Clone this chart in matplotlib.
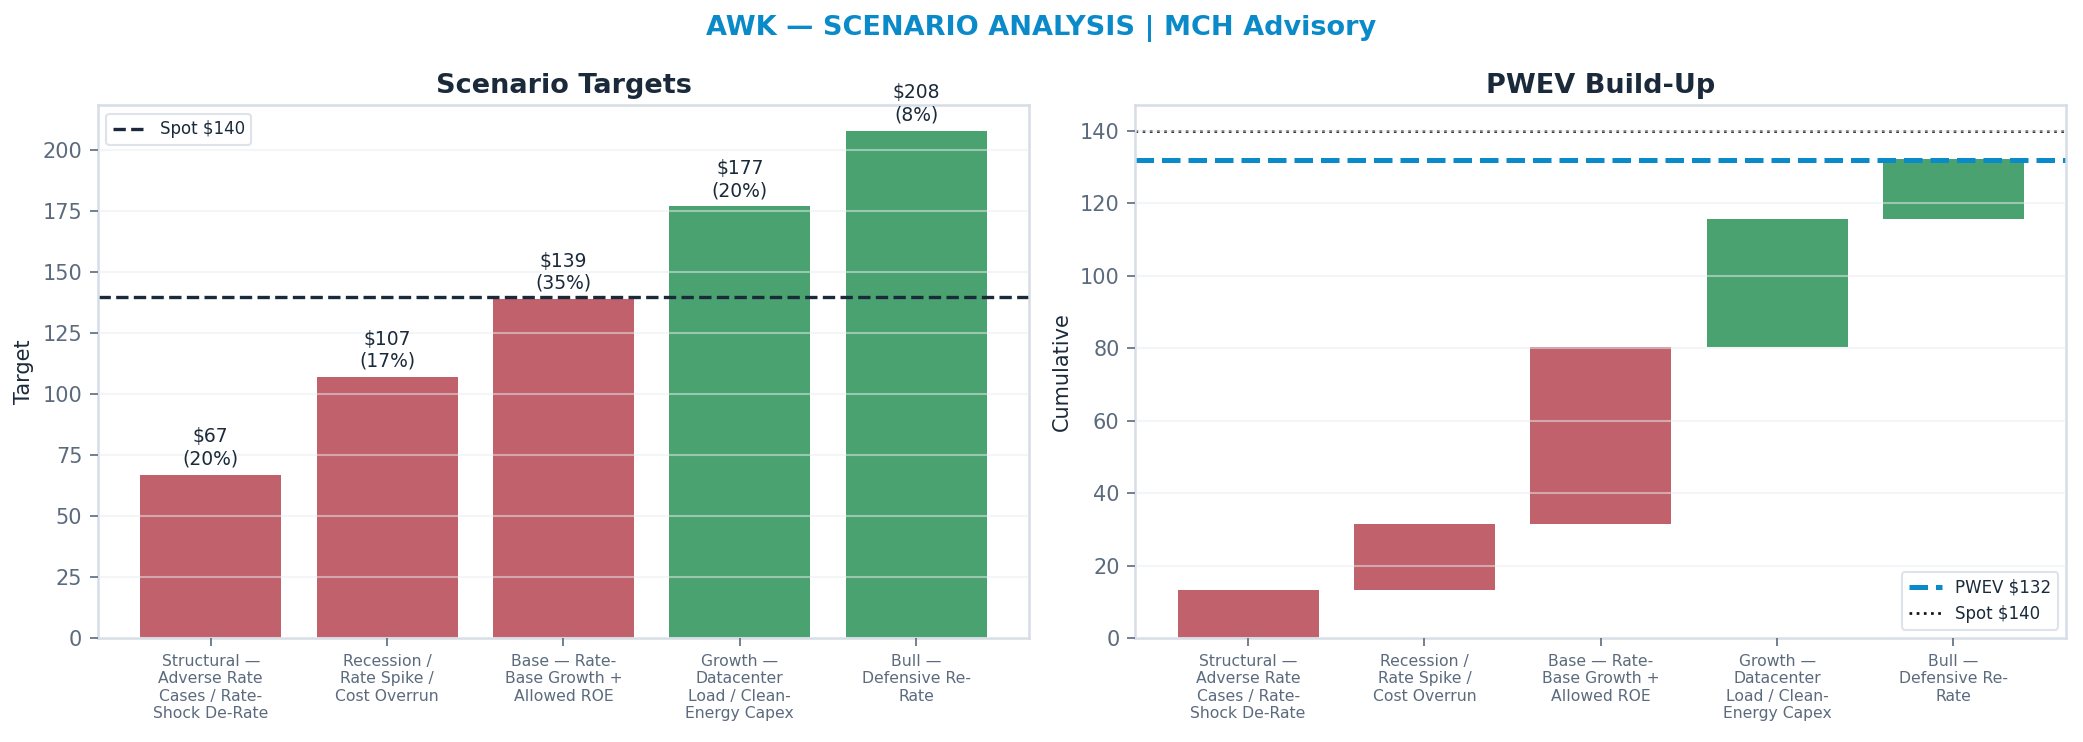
import matplotlib
matplotlib.use("Agg")
import matplotlib.pyplot as plt
import numpy as np

# ---- data ----
scenarios = [
    "Structural —\nAdverse Rate\nCases / Rate-\nShock De-Rate",
    "Recession /\nRate Spike /\nCost Overrun",
    "Base — Rate-\nBase Growth +\nAllowed ROE",
    "Growth —\nDatacenter\nLoad / Clean-\nEnergy Capex",
    "Bull —\nDefensive Re-\nRate",
]
targets = [67, 107, 139, 177, 208]
probs = [0.20, 0.17, 0.35, 0.20, 0.08]
spot = 140
pwev = 132

RED = "#c0616b"
GREEN = "#4aa270"
NAVY = "#1b2a3a"
BLUE = "#0a8ac8"
TICK = "#5b6b7d"
SPINE = "#d6dde6"
GRID = "#e9edf1"

plt.rcParams["font.family"] = ["DejaVu Sans"]

fig = plt.figure(figsize=(2083 / 150, 742 / 150), dpi=150)
ax1 = fig.add_axes([0.047, 0.140, 0.447, 0.718])
ax2 = fig.add_axes([0.545, 0.140, 0.447, 0.718])

fig.suptitle("AWK — SCENARIO ANALYSIS | MCH Advisory", color=BLUE,
             fontsize=13, fontweight="bold", y=0.98)

x = np.arange(len(scenarios))
colors = [GREEN if t >= spot else RED for t in targets]


def style(ax):
    for s in ax.spines.values():
        s.set_color(SPINE)
        s.set_linewidth(1.2)
    ax.tick_params(axis="y", colors=TICK, labelsize=10, length=4)
    ax.tick_params(axis="x", colors=TICK, labelsize=7.5, length=4)
    ax.set_axisbelow(False)
    ax.yaxis.grid(True, color=GRID, linewidth=1.0, alpha=0.5)
    ax.xaxis.grid(False)
    ax.set_xticks(x)
    ax.set_xticklabels(scenarios)


# ---- left: scenario targets ----
bars = ax1.bar(x, targets, width=0.8, color=colors)
ax1.axhline(spot, color=NAVY, linestyle="--", linewidth=1.6, label=f"Spot ${spot}")
for xi, t, p in zip(x, targets, probs):
    ax1.annotate(f"${t}\n({p*100:.0f}%)", (xi, t), xytext=(0, 3),
                 textcoords="offset points", ha="center", va="bottom",
                 fontsize=9, color=NAVY)
style(ax1)
ax1.set_title("Scenario Targets", fontsize=13, fontweight="bold", color=NAVY, pad=6)
ax1.set_ylabel("Target", fontsize=10, color=NAVY)
leg1 = ax1.legend(loc="upper left", fontsize=8, frameon=True, labelcolor=NAVY)
leg1.get_frame().set_edgecolor(SPINE)

# ---- right: PWEV build-up ----
contrib = [t * p for t, p in zip(targets, probs)]
bottoms = np.concatenate([[0], np.cumsum(contrib)[:-1]])
ax2.bar(x, contrib, bottom=bottoms, width=0.8, color=colors)
ax2.axhline(pwev, color=BLUE, linestyle="--", linewidth=2.4, label=f"PWEV ${pwev}")
ax2.axhline(spot, color="#111111", linestyle=":", linewidth=1.3, label=f"Spot ${spot}")
style(ax2)
ax2.set_title("PWEV Build-Up", fontsize=13, fontweight="bold", color=NAVY, pad=6)
ax2.set_ylabel("Cumulative", fontsize=10, color=NAVY)
leg2 = ax2.legend(loc="lower right", fontsize=8, frameon=True, labelcolor=NAVY)
leg2.get_frame().set_edgecolor(SPINE)

fig.savefig("out.png", dpi=150)
